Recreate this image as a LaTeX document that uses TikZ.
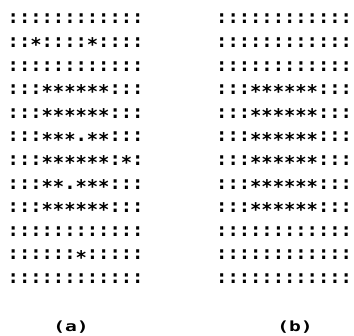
\documentclass[tikz,border=0pt]{standalone}
\usepackage{fontspec}
\newfontfamily\gridfont{DejaVu Sans Mono}
\newfontfamily\capfont[FakeStretch=1.4]{DejaVu Sans Mono}
\usepackage{tikz}
\usetikzlibrary{positioning}
\newcommand\st{\raisebox{-0.22em}{*}}

\begin{document}
\begin{tikzpicture}[x=1pt, y=1pt,
  row/.style={anchor=base west, inner sep=0pt,
    font=\gridfont\bfseries\fontsize{18.8}{20}\selectfont},
  sublabel/.style={anchor=base, inner sep=0pt,
    font=\capfont\bfseries\fontsize{14}{16}\selectfont},
]
\useasboundingbox (0,0) rectangle (354,336);

% grid (a)
\node[row] (a1)  at (7.5,312)   {::::::::::::};
\node[row] (a2)  at (7.5,288.4) {::\st::::\st::::};
\node[row] (a3)  at (7.5,264.8) {::::::::::::};
\node[row] (a4)  at (7.5,241.2) {:::\st\st\st\st\st\st:::};
\node[row] (a5)  at (7.5,217.6) {:::\st\st\st\st\st\st:::};
\node[row] (a6)  at (7.5,194)   {:::\st\st\st.\st\st:::};
\node[row] (a7)  at (7.5,170.4) {:::\st\st\st\st\st\st:\st:};
\node[row] (a8)  at (7.5,146.8) {:::\st\st.\st\st\st:::};
\node[row] (a9)  at (7.5,123.2) {:::\st\st\st\st\st\st:::};
\node[row] (a10) at (7.5,99.6)  {::::::::::::};
\node[row] (a11) at (7.5,76)    {::::::\st:::::};
\node[row] (a12) at (7.5,52.4)  {::::::::::::};

% grid (b)
\node[row] (b1)  at (216,312)   {::::::::::::};
\node[row] (b2)  at (216,288.4) {::::::::::::};
\node[row] (b3)  at (216,264.8) {::::::::::::};
\node[row] (b4)  at (216,241.2) {:::\st\st\st\st\st\st:::};
\node[row] (b5)  at (216,217.6) {:::\st\st\st\st\st\st:::};
\node[row] (b6)  at (216,194)   {:::\st\st\st\st\st\st:::};
\node[row] (b7)  at (216,170.4) {:::\st\st\st\st\st\st:::};
\node[row] (b8)  at (216,146.8) {:::\st\st\st\st\st\st:::};
\node[row] (b9)  at (216,123.2) {:::\st\st\st\st\st\st:::};
\node[row] (b10) at (216,99.6)  {::::::::::::};
\node[row] (b11) at (216,76)    {::::::::::::};
\node[row] (b12) at (216,52.4)  {::::::::::::};

\node[sublabel] (capa) at (71,4)  {(a)};
\node[sublabel] (capb) at (295,4) {(b)};
\end{tikzpicture}
\end{document}
